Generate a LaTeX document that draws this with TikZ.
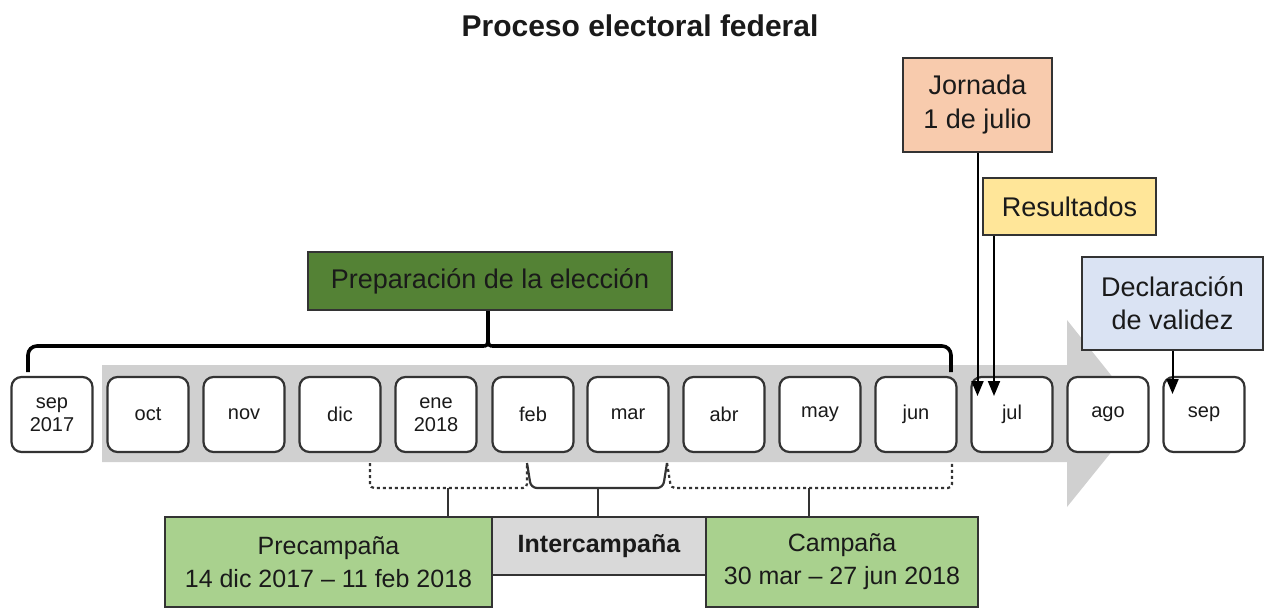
\documentclass[tikz,border=0pt]{standalone}
\usepackage{fontspec}
\setmainfont{Liberation Sans}
\usetikzlibrary{arrows.meta,calc}
\definecolor{boxline}{HTML}{333333}
\definecolor{txt}{HTML}{1A1A1A}
\definecolor{arrowgray}{HTML}{D0D0D0}
\definecolor{darkgreen}{HTML}{548235}
\definecolor{lightgreen}{HTML}{A9D18E}
\definecolor{intergray}{HTML}{D9D9D9}
\definecolor{peach}{HTML}{F8CBAD}
\definecolor{lightyellow}{HTML}{FFE699}
\definecolor{lightblue}{HTML}{DAE3F3}
\begin{document}
\begin{tikzpicture}[x=1pt,y=-1pt,
  month/.style={draw=boxline, line width=2.2pt, fill=white, rounded corners=10pt,
    minimum width=81pt, minimum height=75pt, inner sep=0pt, align=center,
    font=\fontsize{20}{23}\selectfont, text=txt},
  callout/.style={draw=boxline, line width=2.2pt, inner sep=0pt, align=center,
    font=\fontsize{27}{34}\selectfont, text=txt},
  phase/.style={draw=boxline, line width=2.2pt, inner sep=0pt, align=center,
    font=\fontsize{25}{33}\selectfont, text=txt},
  bigbrk/.style={draw=black, line width=3.6pt},
  smallbrk/.style={draw=boxline, line width=2.2pt},
  pointer/.style={draw=black, line width=2pt, -{Triangle[length=15pt,width=12pt]}}]
\useasboundingbox (0,0) rectangle (1265,610);

% title
\node[anchor=base, font=\bfseries\fontsize{30}{36}\selectfont, text=txt] (title) at (640,37) {Proceso electoral federal};

% big gray arrow
\fill[arrowgray] (102,365) -- (1067,365) -- (1067,320) -- (1142,414) -- (1067,507) -- (1067,462) -- (102,462) -- cycle;

% months
\node[month] (m1) at (52,414.5) {sep\\2017};
\node[month] (m2) at (148,414.5) {oct};
\node[month] (m3) at (244,414.5) {nov};
\node[month] (m4) at (340,414.5) {dic};
\node[month] (m5) at (436,414.5) {ene\\2018};
\node[month] (m6) at (533,414.5) {feb};
\node[month] (m7) at (628,414.5) {mar};
\node[month] (m8) at (724,414.5) {abr};
\node[month] (m9) at (820,414.5) {may};
\node[month] (m10) at (916,414.5) {jun};
\node[month] (m11) at (1012,414.5) {jul};
\node[month] (m12) at (1108,414.5) {ago};
\node[month] (m13) at (1204,414.5) {sep};

% preparation box and bracket
\node[callout, fill=darkgreen, minimum width=364pt, minimum height=58pt] (prep) at (490,281) {Preparación de la elección};
\coordinate (bl) at (28,372);
\coordinate (br) at (951,372);
\coordinate (bc) at (488,346);
\draw[bigbrk, rounded corners=9pt] (bl) -- (28,346) -- (481,346);
\draw[bigbrk, rounded corners=9pt] (br) -- (951,346) -- (495,346);
\draw[bigbrk] (481,346) .. controls (488,346) .. (488,336) -- (bc |- prep.south);
\draw[bigbrk] (495,346) .. controls (488,346) .. (488,336);

% callouts on the right
\node[callout, fill=peach, minimum width=149pt, minimum height=94pt] (jornada) at (977.5,105) {Jornada\\1 de julio};
\node[callout, fill=lightyellow, minimum width=173pt, minimum height=57pt] (res) at (1069.5,206.5) {Resultados};
\node[callout, fill=lightblue, minimum width=181pt, minimum height=93pt, font=\fontsize{27}{33}\selectfont] (decl) at (1172.5,303.5) {Declaración\\de validez};
\coordinate (jt) at (977.5,396);
\coordinate (rt) at (994,396);
\coordinate (dt) at (1172.5,394);
\draw[pointer] (jornada.south) -- (jt);
\draw[pointer] (res.south -| rt) -- (rt);
\draw[pointer] (decl.south) -- (dt);

% phase boxes
\node[phase, fill=lightgreen, minimum width=327pt, minimum height=90pt] (pre) at (328.5,562) {Precampaña\\14 dic 2017 -- 11 feb 2018};
\node[phase, fill=intergray, minimum width=214pt, minimum height=58pt, font=\bfseries\fontsize{25}{30}\selectfont] (inter) at (599,546) {Intercampaña};
\node[phase, fill=lightgreen, minimum width=272pt, minimum height=90pt] (camp) at (842,562) {Campaña\\30 mar -- 27 jun 2018};

% lower brackets
\coordinate (p1) at (370,463);
\coordinate (p2) at (527,463);
\coordinate (c2) at (952,463);
\coordinate (pc) at (448,488);
\coordinate (ic) at (598,488);
\coordinate (cc) at (809,488);
\draw[smallbrk, dashed, rounded corners=4pt] (p1) -- (370,488) -- (527,488) -- (p2);
\draw[smallbrk, rounded corners=6pt] (p2) -- (531,488) -- (663,488) -- (667,463);
\draw[smallbrk, dashed, rounded corners=4pt] (667,463) -- (671,488) -- (952,488) -- (c2);
\draw[smallbrk] (pc) -- (pre.north -| pc);
\draw[smallbrk] (ic) -- (inter.north -| ic);
\draw[smallbrk] (cc) -- (camp.north -| cc);
\end{tikzpicture}
\end{document}
